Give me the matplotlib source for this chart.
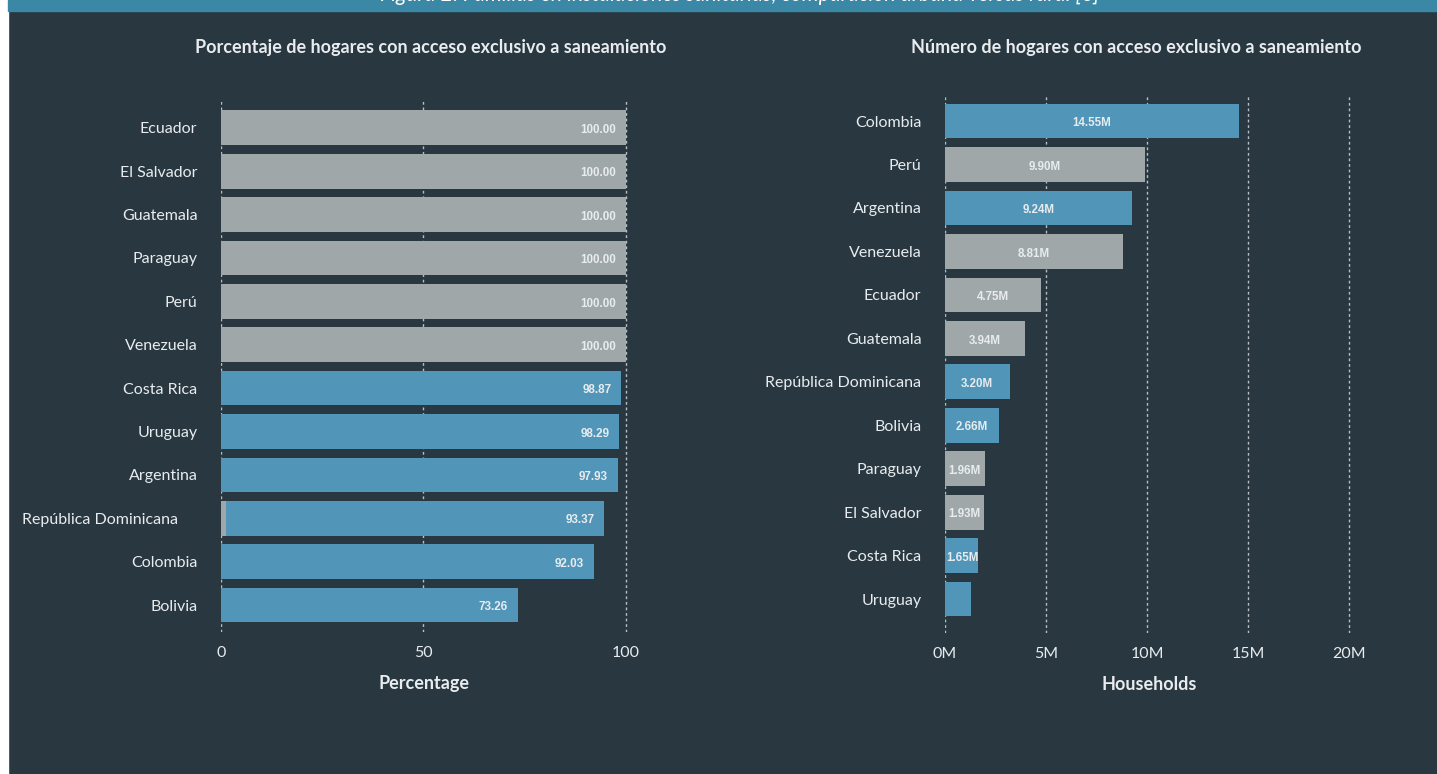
import matplotlib.pyplot as plt
from matplotlib.patches import Rectangle

# colours
BG = '#283740'
BLUE = '#5195b9'
GREY = '#a0a7a9'
TXT = '#e8ecee'

blue_group = ['Costa Rica', 'Uruguay', 'Argentina', 'República Dominicana',
              'Colombia', 'Bolivia']

# left panel: percentage of households
pct_countries = ['Ecuador', 'El Salvador', 'Guatemala', 'Paraguay', 'Perú',
                 'Venezuela', 'Costa Rica', 'Uruguay', 'Argentina',
                 'República Dominicana', 'Colombia', 'Bolivia']
pct_values = [100.00, 100.00, 100.00, 100.00, 100.00, 100.00,
              98.87, 98.29, 97.93, 93.37, 92.03, 73.26]
# small grey segment drawn under República Dominicana
pct_offset = [0, 0, 0, 0, 0, 0, 0, 0, 0, 1.3, 0, 0]

# right panel: number of households (millions)
hh_countries = ['Colombia', 'Perú', 'Argentina', 'Venezuela', 'Ecuador',
                'Guatemala', 'República Dominicana', 'Bolivia', 'Paraguay',
                'El Salvador', 'Costa Rica', 'Uruguay']
hh_values = [14.55, 9.90, 9.24, 8.81, 4.75, 3.94, 3.20, 2.66, 1.96, 1.93,
             1.65, 1.30]
hh_labels = ['14.55M', '9.90M', '9.24M', '8.81M', '4.75M', '3.94M', '3.20M',
             '2.66M', '1.96M', '1.93M', '1.65M', '']

plt.rcParams['font.family'] = ['Lato', 'DejaVu Sans']

W, H = 1437, 774
fig = plt.figure(figsize=(W / 100, H / 100), dpi=100)
fig.patch.set_facecolor(BG)

# white strip at the left and the header band at the top
fig.add_artist(Rectangle((0, 0), 8 / W, 1, transform=fig.transFigure,
                         color='white', zorder=0))
fig.add_artist(Rectangle((8 / W, 1 - 11 / H), 1, 11 / H,
                         transform=fig.transFigure, color='#3a87a6', zorder=0))
fig.text(740 / W, 1 + 5 / H, 'Figura 2. Familias en instalaciones sanitarias, '
         'comparación urbana versus rural [6]', ha='center', va='center',
         color='white', fontsize=15.3, style='italic')


def px_axes(x0, x1, y0, y1):
    return fig.add_axes([x0 / W, 1 - y1 / H, (x1 - x0) / W, (y1 - y0) / H])


def style(ax):
    ax.set_facecolor(BG)
    for s in ax.spines.values():
        s.set_visible(False)
    ax.tick_params(length=0, colors=TXT, labelsize=11.5)
    ax.tick_params(axis='y', pad=17)
    ax.tick_params(axis='x', pad=10)
    ax.grid(axis='x', color='#b8bfc2', linestyle=(0, (2, 2)), linewidth=1.0)
    ax.set_axisbelow(True)


# ---- left panel
ax1 = px_axes(221, 628, 100, 632)
style(ax1)
y1 = range(len(pct_countries))
cols1 = [BLUE if c in blue_group else GREY for c in pct_countries]
ax1.barh(y1, pct_offset, height=0.8, color=GREY)
ax1.barh(y1, pct_values, left=pct_offset, height=0.8, color=cols1)
for i, (v, o) in enumerate(zip(pct_values, pct_offset)):
    ax1.text(v + o - 2.4, i + 0.05, f'{v:.2f}', ha='right', va='center',
             color=TXT, fontsize=8.4, fontweight='bold',
             family='Liberation Sans')
ax1.set_xlim(0, 100.5)
ax1.set_ylim(11.62, -0.64)
ax1.set_xticks([0, 50, 100])
ax1.set_yticks(list(y1))
ax1.set_yticklabels(pct_countries)
for lab in ax1.get_yticklabels():
    if lab.get_text() == 'República Dominicana':
        lab.set_x(-0.047)
ax1.set_xlabel('Percentage', color=TXT, fontsize=13, fontweight='bold',
               labelpad=11)

# ---- right panel
ax2 = px_axes(945, 1353, 95, 633)
style(ax2)
y2 = range(len(hh_countries))
cols2 = [BLUE if c in blue_group else GREY for c in hh_countries]
ax2.barh(y2, hh_values, height=0.8, color=cols2)
for i, (v, t) in enumerate(zip(hh_values, hh_labels)):
    ax2.text(max(v / 2, 0.85), i + 0.05, t, ha='center', va='center',
             color=TXT, fontsize=8.3, fontweight='bold',
             family='Liberation Sans')
ax2.set_xlim(0, 20.2)
ax2.set_ylim(11.78, -0.6)
ax2.set_xticks([0, 5, 10, 15, 20])
ax2.set_xticklabels(['0M', '5M', '10M', '15M', '20M'])
ax2.set_yticks(list(y2))
ax2.set_yticklabels(hh_countries)
ax2.set_xlabel('Households', color=TXT, fontsize=13, fontweight='bold',
               labelpad=11)

# panel titles
fig.text(431 / W, 1 - 48 / H,
         'Porcentaje de hogares con acceso exclusivo a saneamiento',
         ha='center', va='center', color=TXT, fontsize=13, fontweight='bold')
fig.text(1136 / W, 1 - 48 / H,
         'Número de hogares con acceso exclusivo a saneamiento',
         ha='center', va='center', color=TXT, fontsize=13, fontweight='bold')

fig.savefig('out.png', dpi=100, facecolor=BG)
